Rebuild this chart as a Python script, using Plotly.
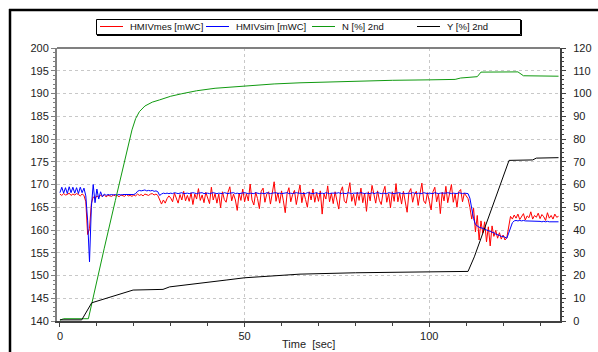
import plotly.graph_objects as go

# time grid for the measured / simulated head signals (sec)
t_head = [i * 0.5 for i in range(271)]

hmiv_mes = [
    167.9,167.6,168.0,167.7,167.8,168.1,167.6,167.9,167.7,168.0,
    167.8,167.5,167.9,167.6,166.2,159.0,160.3,165.8,167.3,166.9,
    167.5,167.2,167.6,167.4,167.7,167.3,167.6,167.5,167.4,167.7,
    167.5,167.6,167.3,167.7,167.5,167.4,167.8,167.5,167.6,167.4,
    167.7,167.5,167.9,167.6,167.8,167.5,167.9,167.7,167.6,167.9,
    168.0,167.7,167.9,167.6,166.8,165.7,166.6,165.9,166.9,167.5,
    167.0,166.2,168.1,166.9,165.9,167.8,166.6,168.5,166.4,167.6,
    166.3,168.2,165.6,167.9,166.8,169.1,166.5,167.7,166.0,168.3,
    166.9,165.8,169.4,166.6,168.0,165.9,167.9,164.9,168.4,166.7,
    166.1,168.3,169.5,166.4,167.9,166.6,164.3,168.1,166.5,169.0,
    166.2,168.0,166.4,170.1,166.6,165.5,168.3,166.9,164.7,168.5,
    169.2,166.1,167.9,168.4,165.7,168.0,170.6,166.3,168.2,165.9,
    168.6,166.4,163.8,168.0,169.3,166.2,167.8,168.7,165.6,167.9,
    169.9,166.0,168.3,166.7,165.0,168.4,166.6,169.0,166.1,168.2,
    166.3,168.6,163.5,167.9,166.8,169.7,166.2,168.1,165.8,168.4,
    166.6,164.6,168.5,169.5,166.4,165.9,168.2,170.4,166.3,167.9,
    165.4,168.3,166.5,169.2,166.0,168.1,164.1,168.4,166.4,169.8,
    167.9,165.9,168.6,166.5,165.6,168.3,169.6,166.1,168.0,164.9,
    168.4,166.3,170.2,166.2,168.1,165.7,168.5,166.5,163.9,168.3,
    169.1,166.1,167.9,168.5,165.4,168.0,170.3,166.4,165.8,168.2,
    166.5,164.4,168.4,169.4,166.2,168.0,163.6,168.3,166.4,169.6,
    166.0,168.2,170.0,166.1,167.9,165.0,168.4,168.9,166.2,168.1,
    167.6,166.9,165.0,162.4,164.8,159.6,163.2,157.8,162.0,159.3,
    161.8,157.4,160.7,156.5,160.9,158.6,159.9,158.2,159.4,158.0,
    158.9,157.8,158.3,161.2,163.0,162.4,163.3,162.6,163.5,162.3,
    162.9,163.6,162.2,163.1,162.7,164.0,162.4,163.2,162.8,163.7,
    162.5,163.4,162.9,162.1,163.8,162.6,163.2,162.4,163.5,162.8,
    163.0,
]

hmiv_sim = [
    168.2,169.4,168.1,169.3,168.0,169.5,168.2,169.4,168.1,169.3,
    168.0,169.4,168.2,169.2,167.5,162.0,153.0,165.0,170.0,166.0,
    169.0,166.8,168.4,167.3,167.9,167.6,167.8,167.7,167.8,167.7,
    167.8,167.7,167.8,167.7,167.8,167.8,167.7,167.8,167.8,167.7,
    167.8,168.0,168.5,168.7,168.6,168.7,168.8,168.6,168.7,168.6,
    168.7,168.5,168.6,168.4,167.6,167.9,168.1,168.0,168.1,168.0,
    168.1,168.0,168.2,168.1,168.0,168.1,168.2,168.0,168.1,168.1,
    168.0,168.1,168.2,168.1,168.0,168.1,168.1,168.2,168.0,168.1,
    168.1,168.0,168.1,168.2,168.1,168.0,168.1,168.1,168.0,168.2,
    168.1,168.0,168.1,168.1,168.2,168.0,168.1,168.0,168.1,168.1,
    168.2,168.1,168.0,168.1,168.1,168.0,168.2,168.1,168.0,168.1,
    168.1,168.0,168.2,168.1,168.0,168.1,168.1,168.2,168.0,168.1,
    168.0,168.1,168.1,168.2,168.0,168.1,168.0,168.1,168.2,168.1,
    168.1,168.0,168.1,168.0,168.2,168.1,168.1,168.0,168.1,168.2,
    168.0,168.1,168.1,168.0,168.2,168.1,168.0,168.1,168.1,168.0,
    168.1,168.2,168.0,168.1,168.1,168.0,168.2,168.1,168.0,168.1,
    168.1,168.0,168.1,168.2,168.1,168.0,168.1,168.1,168.0,168.2,
    168.0,168.1,168.2,168.1,168.0,168.1,168.1,168.0,168.2,168.1,
    168.1,168.0,168.1,168.1,168.2,168.0,168.1,168.0,168.1,168.1,
    168.0,168.2,168.1,168.0,168.1,168.1,168.0,168.2,168.1,168.0,
    168.1,168.1,168.0,168.2,168.1,168.0,168.1,168.1,168.0,168.1,
    168.2,168.1,168.0,168.1,168.1,168.0,168.2,168.1,168.0,168.1,
    168.1,168.0,167.0,164.5,162.5,161.2,160.8,160.6,160.5,160.4,
    160.2,160.0,159.9,159.7,159.5,159.4,159.1,159.0,158.8,158.6,
    158.6,158.4,158.2,159.3,160.7,161.6,162.0,162.1,162.0,162.1,
    162.0,162.1,162.0,162.0,161.9,162.0,161.9,162.0,161.9,161.9,
    161.9,161.8,161.9,161.8,161.9,161.8,161.8,161.9,161.8,161.8,
    161.8,
]

t_n = [0, 1, 7.7, 10, 12, 15, 17, 19.5, 20.5, 21.5, 23, 25, 27, 30, 33, 37, 42,
       50, 58, 65, 78, 90, 100, 107, 108.5, 111, 113, 114, 120, 124, 125.5, 130, 135]
n_pct = [0.4, 1.0, 1.0, 18, 32, 53, 67, 84, 89, 92, 94.5, 96.2, 97.2, 98.8, 99.9, 101.2, 102.3,
         103.4, 104.2, 104.7, 105.4, 105.8, 106.0, 106.2, 106.8, 107.0, 107.4, 109.4, 109.6, 109.5,
         107.8, 107.7, 107.6]

t_y = [0, 5.9, 8.6, 19.8, 27.9, 29.7, 45, 50, 65, 80, 100, 110.5, 112.2, 121.6, 128, 129, 135]
y_pct = [0.5, 0.5, 8.0, 13.6, 13.9, 15.0, 18.0, 19.0, 20.6, 21.2, 21.6, 21.8, 28.2, 70.6, 70.8, 71.6, 71.8]

series_names = ["HMIVmes [mWC]", "HMIVsim [mWC]", "N [%] 2nd", "Y [%] 2nd"]
series_colors = ["#ff0000", "#0000ff", "#109a10", "#000000"]

left_ticks = list(range(140, 201, 5))
right_ticks = list(range(0, 121, 10))
x_ticks = [0, 50, 100]
x_grid = [50, 100]

FONT = "Liberation Sans, Arial, sans-serif"
fig = go.Figure()
fig.add_trace(go.Scatter(x=t_head, y=hmiv_mes, name=series_names[0], mode="lines",
                         line=dict(color=series_colors[0], width=1)))
fig.add_trace(go.Scatter(x=t_head, y=hmiv_sim, name=series_names[1], mode="lines",
                         line=dict(color=series_colors[1], width=1)))
fig.add_trace(go.Scatter(x=t_n, y=n_pct, name=series_names[2], mode="lines", yaxis="y2",
                         line=dict(color=series_colors[2], width=1)))
fig.add_trace(go.Scatter(x=t_y, y=y_pct, name=series_names[3], mode="lines", yaxis="y2",
                         line=dict(color=series_colors[3], width=1)))
fig.add_trace(go.Scatter(x=[None], y=[None], xaxis="x2", showlegend=False, hoverinfo="skip"))

L, R, T, B = 57, 38, 48, 31
W, H = 598, 352
pw, ph = W - L - R, H - T - B
def px(x): return (x - L) / pw
def py(y): return (H - B - y) / ph

shapes = [
    dict(type="line", xref="paper", yref="paper", x0=0, x1=1, y0=1, y1=1,
         line=dict(color="#808080", width=2)),
    dict(type="line", xref="paper", yref="paper", x0=px(10), x1=px(10), y0=py(9), y1=py(360),
         line=dict(color="#000", width=2.5)),
    dict(type="line", xref="paper", yref="paper", x0=px(9), x1=px(610), y0=py(10), y1=py(10),
         line=dict(color="#000", width=2.5)),
    # legend frame with shadow
    dict(type="rect", xref="paper", yref="paper", x0=px(96.5), x1=px(520.5), y0=py(34.5), y1=py(19.5),
         line=dict(color="#000", width=1), fillcolor="white"),
    dict(type="line", xref="paper", yref="paper", x0=px(521.5), x1=px(521.5), y0=py(20), y1=py(35.5),
         line=dict(color="#000", width=1)),
    dict(type="line", xref="paper", yref="paper", x0=px(97), x1=px(522), y0=py(35.5), y1=py(35.5),
         line=dict(color="#000", width=1)),
]
annotations = [dict(text="Time\u00a0\u00a0[sec]", xref="paper", yref="paper", x=0.5, y=py(344),
                    xanchor="center", yanchor="middle", showarrow=False,
                    font=dict(size=11, family=FONT, color="#222"))]
leg_x = [100, 206, 312, 417]
for name, col, x0 in zip(series_names, series_colors, leg_x):
    shapes.append(dict(type="line", xref="paper", yref="paper", x0=px(x0), x1=px(x0 + 23),
                       y0=py(26.5), y1=py(26.5), line=dict(color=col, width=1)))
    annotations.append(dict(text=name, xref="paper", yref="paper", x=px(x0 + 28), y=py(26.5),
                            xanchor="left", yanchor="middle", showarrow=False,
                            font=dict(size=9.5, family=FONT, color="#111")))

grid = dict(gridcolor="#c8c8c8", griddash="3px,3px", gridwidth=1)
fig.update_layout(
    width=W, height=H, margin=dict(l=L, r=R, t=T, b=B, autoexpand=False),
    paper_bgcolor="white", plot_bgcolor="white",
    font=dict(family=FONT, size=11, color="#222"),
    showlegend=False,
    xaxis=dict(range=[-0.8, 135.4], tickvals=x_ticks, showgrid=False, zeroline=False,
               showline=True, linecolor="#404040", linewidth=2, ticks="outside",
               ticklen=4, tickcolor="#404040",
               minor=dict(dtick=10, ticks="outside", ticklen=3, tickcolor="#404040")),
    xaxis2=dict(range=[-0.8, 135.4], overlaying="x", tickvals=x_grid, showticklabels=False,
                showgrid=True, ticks="", zeroline=False, **grid),
    yaxis=dict(range=[140, 200], tickvals=left_ticks, showgrid=True, zeroline=False,
               showline=True, linecolor="#808080", linewidth=2, ticks="outside", ticklen=4,
               tickcolor="#808080",
               minor=dict(dtick=1, ticks="outside", ticklen=2, tickcolor="#808080"), **grid),
    yaxis2=dict(range=[0, 120], tickvals=right_ticks, overlaying="y", side="right",
                showgrid=False, zeroline=False, showline=True, linecolor="#404040",
                linewidth=2, ticks="outside", ticklen=4, tickcolor="#404040",
                ticklabelstandoff=5,
                minor=dict(dtick=2, ticks="outside", ticklen=2, tickcolor="#404040")),
    shapes=shapes,
    annotations=annotations,
)
fig.write_html("out.html", config={"displayModeBar": False},
               post_script="document.body.style.margin='0px';")
